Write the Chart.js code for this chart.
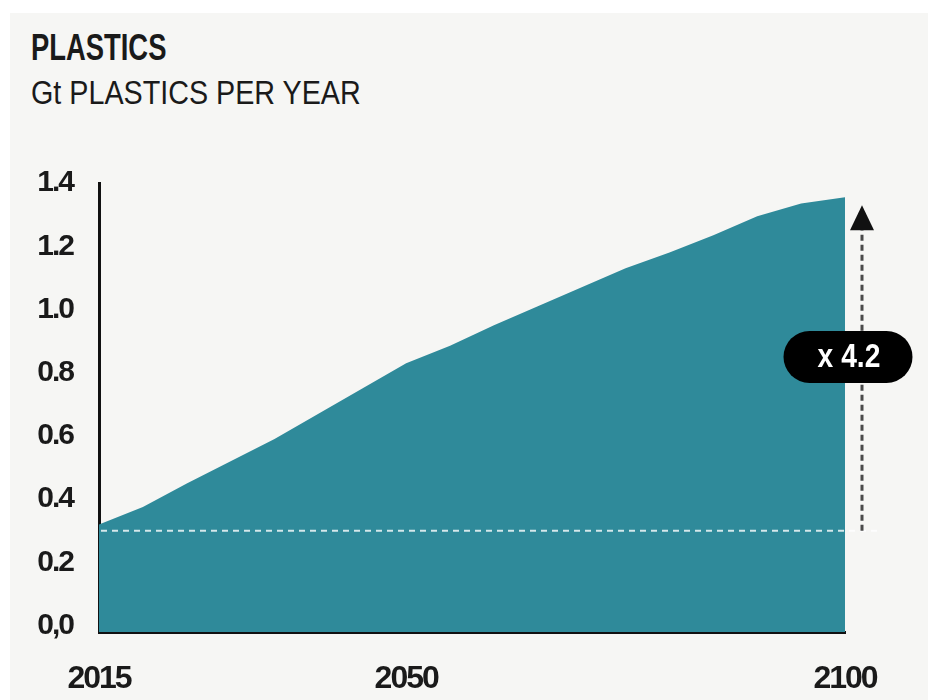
<!DOCTYPE html>
<html>
<head>
<meta charset="utf-8">
<script src="https://cdn.jsdelivr.net/npm/chart.js@4.4.1/dist/chart.umd.min.js"></script>
<style>
  html, body { margin: 0; padding: 0; background: #ffffff; }
  body { width: 930px; height: 700px; position: relative; overflow: hidden;
         font-family: 'Liberation Sans', Arial, sans-serif; color: #1a1a1a; }
  #panel { position: absolute; left: 10px; top: 13px; width: 918px; height: 687px; background: #f6f6f4; }
  .head { position: absolute; left: 31px; white-space: nowrap; line-height: 1; transform-origin: left top; }
  #title { top: 29px; font-size: 37px; font-weight: bold; transform: scaleX(0.74); }
  #subtitle { top: 76px; font-size: 33px; font-weight: normal; transform: scaleX(0.87); }
  #chartWrap { position: absolute; left: 0; top: 0; width: 930px; height: 700px; }
</style>
</head>
<body>
<div id="panel"></div>
<div id="title" class="head">PLASTICS</div>
<div id="subtitle" class="head">Gt PLASTICS PER YEAR</div>
<div id="chartWrap"><canvas id="chart" width="930" height="700"></canvas></div>

<script>
// Annual plastics production, gigatonnes
const years    = [2015, 2020, 2025, 2030, 2035, 2040, 2045, 2050, 2055, 2060,
                  2065, 2070, 2075, 2080, 2085, 2090, 2095, 2100];
const plastics = [0.32, 0.375, 0.45, 0.52, 0.59, 0.67, 0.75, 0.83, 0.885, 0.95,
                  1.01, 1.07, 1.13, 1.18, 1.235, 1.295, 1.335, 1.355];
const yTickValues = [0, 0.2, 0.4, 0.6, 0.8, 1.0, 1.2, 1.4];
const xTickValues = [2015, 2050, 2100];
const baselineLevel = 0.3;

const FONT = "'Liberation Sans', Arial, sans-serif";
const INK = '#1a1a1a';
const TEAL = '#2f8a9a';

// growth factor between first and last year
const growth = plastics[plastics.length - 1] / plastics[0];

// tighter tracking for the axis labels (condensed look)
const tightLabels = {
  id: 'tightLabels',
  beforeDraw(chart) { chart.ctx.letterSpacing = '-2px'; },
  afterDraw(chart) { chart.ctx.letterSpacing = '0px'; }
};

const growthMarker = {
  id: 'growthMarker',
  afterDatasetsDraw(chart) {
    const { ctx, chartArea, scales } = chart;
    const y = scales.y;
    const baseY = y.getPixelForValue(baselineLevel);
    const topY = y.getPixelForValue(plastics[plastics.length - 1]);
    const arrowX = chartArea.right + 17;

    ctx.save();
    ctx.letterSpacing = '0px';
    // dashed reference line at the starting level
    ctx.strokeStyle = 'rgba(255,255,255,0.8)';
    ctx.lineWidth = 2;
    ctx.setLineDash([6, 5]);
    ctx.beginPath();
    ctx.moveTo(chartArea.left + 2, baseY);
    ctx.lineTo(arrowX + 18, baseY);
    ctx.stroke();

    // dashed arrow shaft
    const tipY = topY + 8;
    const headBase = tipY + 25;
    ctx.strokeStyle = '#4a4a4a';
    ctx.lineWidth = 3;
    ctx.setLineDash([6, 4]);
    ctx.beginPath();
    ctx.moveTo(arrowX, baseY);
    ctx.lineTo(arrowX, headBase);
    ctx.stroke();
    ctx.setLineDash([]);

    // arrow head
    ctx.fillStyle = '#111111';
    ctx.beginPath();
    ctx.moveTo(arrowX, tipY);
    ctx.lineTo(arrowX - 12, headBase);
    ctx.lineTo(arrowX + 12, headBase);
    ctx.closePath();
    ctx.fill();

    // growth pill
    const cx = chartArea.right + 3;
    const cy = y.getPixelForValue(0.85);
    const w = 129, h = 52;
    ctx.fillStyle = '#000000';
    ctx.beginPath();
    ctx.roundRect(cx - w / 2, cy - h / 2, w, h, h / 2);
    ctx.fill();
    ctx.fillStyle = '#ffffff';
    ctx.font = 'bold 34px ' + FONT;
    ctx.textAlign = 'center';
    ctx.textBaseline = 'middle';
    ctx.translate(cx + 1, cy + 1);
    ctx.scale(0.83, 1);
    ctx.fillText('x ' + growth.toFixed(1), 0, 0);
    ctx.restore();
  }
};

new Chart(document.getElementById('chart'), {
  type: 'line',
  data: {
    datasets: [{
      label: 'Gt plastics per year',
      data: years.map((yr, i) => ({ x: yr, y: plastics[i] })),
      borderWidth: 0,
      borderColor: TEAL,
      backgroundColor: TEAL,
      fill: 'start',
      pointRadius: 0,
      tension: 0
    }]
  },
  options: {
    responsive: false,
    animation: false,
    layout: { padding: { left: 0, right: 85, top: 183, bottom: 0 } },
    plugins: { legend: { display: false }, tooltip: { enabled: false }, title: { display: false } },
    scales: {
      x: {
        type: 'linear',
        min: 2015,
        max: 2100,
        z: 1,
        afterBuildTicks: s => { s.ticks = xTickValues.map(v => ({ value: v })); },
        afterFit: s => { s.height = 68; },
        grid: { drawOnChartArea: false, drawTicks: false },
        border: { display: true, color: '#111111', width: 3 },
        ticks: {
          padding: 28,
          maxRotation: 0,
          autoSkip: false,
          color: INK,
          font: { family: FONT, size: 32, weight: 'bold' },
          callback: v => String(v)
        }
      },
      y: {
        min: -0.02,
        max: 1.4,
        z: 1,
        afterBuildTicks: s => { s.ticks = yTickValues.map(v => ({ value: v })); },
        afterFit: s => { s.width = 99; },
        grid: { drawOnChartArea: false, drawTicks: false },
        border: { display: true, color: '#111111', width: 3 },
        ticks: {
          padding: 26,
          autoSkip: false,
          color: INK,
          font: { family: FONT, size: 30, weight: 'bold' },
          callback: v => (v === 0 ? '0,0' : v.toFixed(1))
        }
      }
    }
  },
  plugins: [tightLabels, growthMarker]
});
</script>
</body>
</html>
